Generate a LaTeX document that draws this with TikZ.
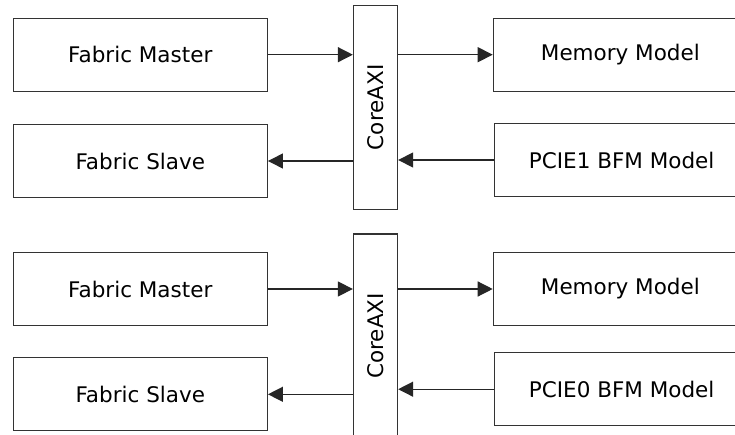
\documentclass[tikz,border=0pt]{standalone}
\usepackage{fontspec}
\setmainfont{DejaVu Sans}
\usepackage{graphicx}
\usetikzlibrary{arrows.meta,positioning}

\begin{document}
\begin{tikzpicture}[x=1pt, y=1pt, node distance = 32pt,
                    box/.style = {draw=black!80, line width=1.3pt, inner sep=0pt,
                      minimum width=254pt, minimum height=73pt,
                      font=\fontsize{21.5}{25}\selectfont},
                    core/.style = {box, minimum width=44pt, minimum height=204pt},
                    link/.style = {draw=black!85, line width=1.3pt,
                      -{Triangle[length=15pt,width=15pt]}}]
\useasboundingbox (0,0) rectangle (735,-435);
\clip (0,0) rectangle (735,-435);
% PCIE1 side
\node[box] (fm1) at (140.3,-54.7) {Fabric Master};
\node[box, below= of fm1] (fs1) {Fabric Slave};
\node[core, anchor=north] (axi1) at (375.5,-4.7) {\rotatebox{90}{CoreAXI}};
\node[box, anchor=west] (mem1) at (492.7,-54.7) {Memory Model};
\node[box, anchor=west] (pc1) at (494,-160) {PCIE1 BFM Model};
% PCIE0 side
\node[box] (fm2) at (140.3,-289) {Fabric Master};
\node[box, below=31pt of fm2] (fs2) {Fabric Slave};
\node[core, anchor=north] (axi2) at (375.5,-233.3) {\rotatebox{90}{CoreAXI}};
\node[box, anchor=west] (mem2) at (492.7,-289) {Memory Model};
\node[box, anchor=west] (pc2) at (494,-389.2) {PCIE0 BFM Model};
\foreach \i in {1,2} {
  \draw[link] (fm\i.east) -- (fm\i.east -| axi\i.west);
  \draw[link] (axi\i.east |- mem\i.west) -- (mem\i.west);
  \draw[link] (pc\i.west) -- (pc\i.west -| axi\i.east);
  \draw[link] (axi\i.west |- fs\i.east) -- (fs\i.east);
}
\end{tikzpicture}
\end{document}
